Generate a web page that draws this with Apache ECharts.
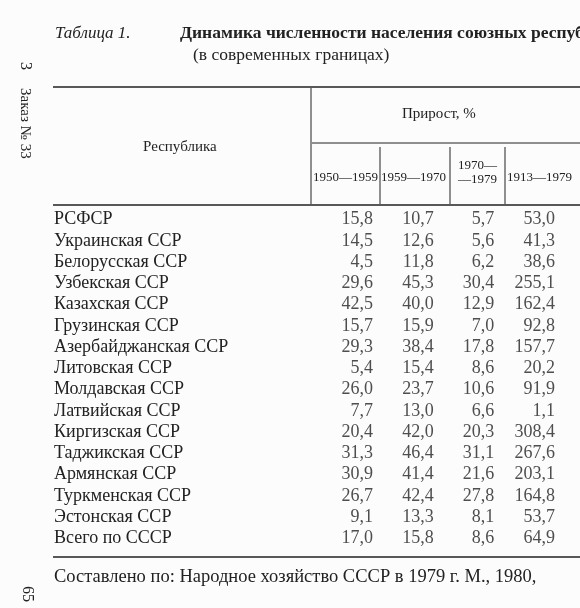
<!DOCTYPE html><html><head><meta charset="utf-8"><script src="https://cdn.jsdelivr.net/npm/echarts@6/dist/echarts.min.js"></script>
<style>body{margin:0;background:#fff}#c{width:580px;height:608px}</style></head><body><div id="c"></div><script>
const republics=["РСФСР","Украинская ССР","Белорусская ССР","Узбекская ССР","Казахская ССР","Грузинская ССР","Азербайджанская ССР","Литовская ССР","Молдавская ССР","Латвийская ССР","Киргизская ССР","Таджикская ССР","Армянская ССР","Туркменская ССР","Эстонская ССР","Всего по СССР"];
const periods=["1950—1959","1959—1970","1970—\n—1979","1913—1979"];
const g1950_1959=[15.8,14.5,4.5,29.6,42.5,15.7,29.3,5.4,26.0,7.7,20.4,31.3,30.9,26.7,9.1,17.0];
const g1959_1970=[10.7,12.6,11.8,45.3,40.0,15.9,38.4,15.4,23.7,13.0,42.0,46.4,41.4,42.4,13.3,15.8];
const g1970_1979=[5.7,5.6,6.2,30.4,12.9,7.0,17.8,8.6,10.6,6.6,20.3,31.1,21.6,27.8,8.1,8.6];
const g1913_1979=[53.0,41.3,38.6,255.1,162.4,92.8,157.7,20.2,91.9,1.1,308.4,267.6,203.1,164.8,53.7,64.9];
const cols=[g1950_1959,g1959_1970,g1970_1979,g1913_1979];
const F='"Liberation Serif","DejaVu Serif",serif';
const data=[];cols.forEach((c,i)=>c.forEach((v,j)=>data.push([i,republics[j],v])));
const t=(x,y,s,o)=>({type:'text',left:x,top:y,style:Object.assign({text:s,font:'16px '+F,fill:'#222'},o||{})});
const line=(x1,y1,x2,y2,w)=>({type:'line',shape:{x1,y1,x2,y2},style:{stroke:'#222',lineWidth:w||1}});
const ch=echarts.init(document.getElementById('c'));
ch.setOption({backgroundColor:'#fcfcfc',animation:false,
grid:{left:373,right:25,top:209,bottom:59},
xAxis:{type:'value',min:0,max:3,show:false},
yAxis:{type:'category',inverse:true,data:republics,axisLine:{show:false},axisTick:{show:false},
 axisLabel:{interval:0,align:'left',margin:319,fontFamily:F,fontSize:18,color:'#222'}},
series:[{type:'scatter',symbolSize:0,data:data,encode:{x:0,y:1},
 label:{show:true,position:'left',distance:0,formatter:p=>p.value[2].toFixed(1).replace('.',','),fontFamily:F,fontSize:18,color:'#222'}}],
graphic:[
 t(55,25,'Таблица 1.',{font:'italic 17px '+F,letterSpacing:3}),
 t(180,24,'Динамика численности населения союзных республик',{font:'bold 17.5px '+F}),
 t(193,46,'(в современных границах)',{font:'17.5px '+F}),
 line(53,87,580,87,1.5),line(53,205,580,205,1.5),line(311,88,311,204),line(312,143,580,143),
 line(380,147,380,204),line(450,147,450,204),line(505,147,505,204),
 t(143,140,'Республика',{font:'15px '+F}),
 t(402,107,'Прирост, %',{font:'15px '+F}),
 t(313,171,'1950—1959',{font:'13px '+F}),t(381,171,'1959—1970',{font:'13px '+F}),
 t(458,159,'1970—\n—1979',{font:'13px '+F,lineHeight:14}),t(507,171,'1913—1979',{font:'13px '+F}),
 line(53,557,580,557,1.5),
 t(54,568,'Составлено по: Народное хозяйство СССР в 1979 г. М., 1980,',{font:'18.5px '+F}),
 {type:'text',left:17,top:62,rotation:-Math.PI/2,style:{text:'3',font:'16px '+F,fill:'#222'}},
 {type:'text',left:17,top:88,rotation:-Math.PI/2,style:{text:'Заказ № 33',font:'15px '+F,fill:'#222'}},
 {type:'text',left:19,top:586,rotation:-Math.PI/2,style:{text:'65',font:'16px '+F,fill:'#222'}}
]});
</script></body></html>
